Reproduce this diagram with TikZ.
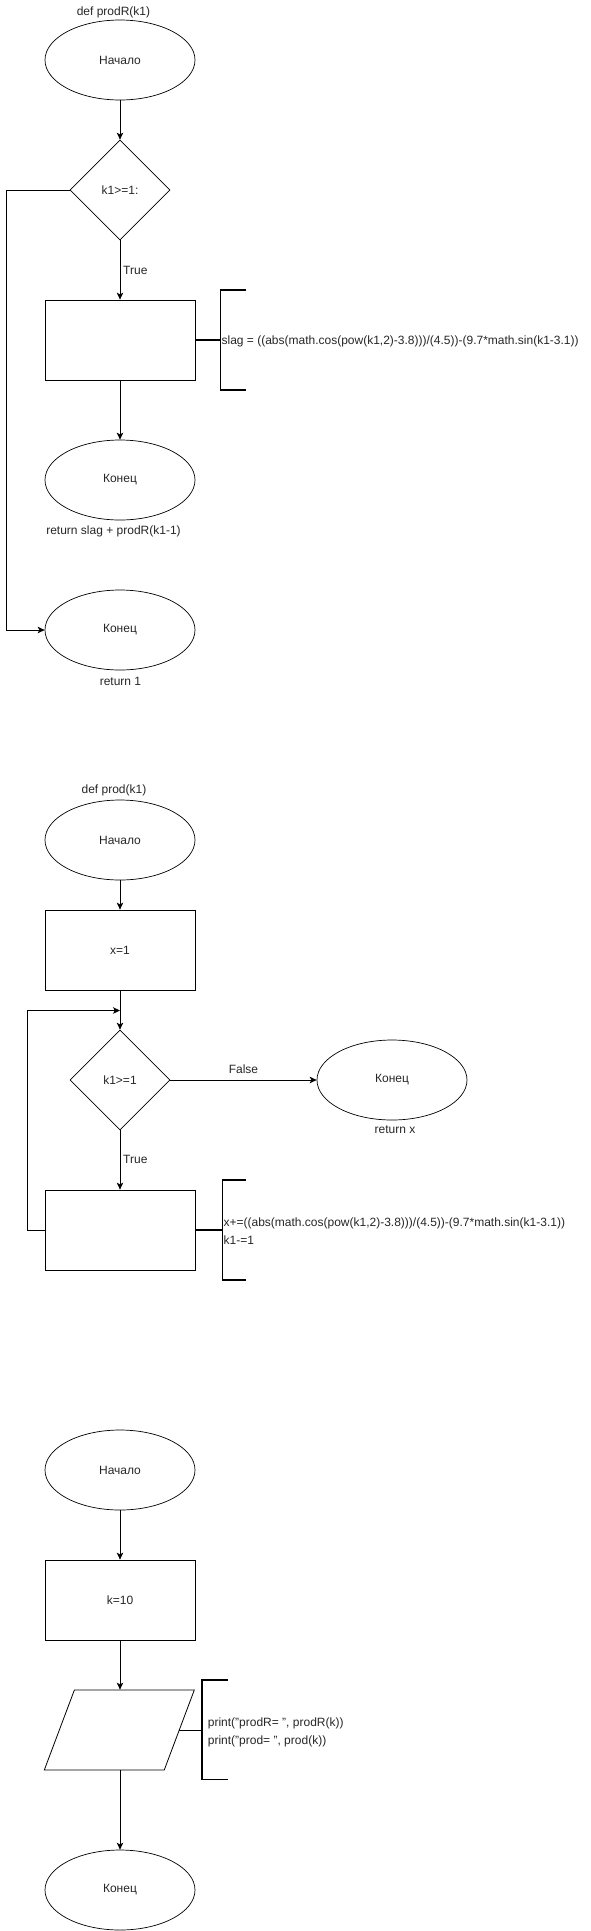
\documentclass[tikz,border=0pt]{standalone}
\usepackage{fontspec}
\setmainfont{Liberation Sans}
\usetikzlibrary{shapes.geometric,positioning,calc,arrows.meta}

\begin{document}
\begin{tikzpicture}[x=1pt,y=-1pt,
	every node/.style={font=\fontsize{12}{18.4}\selectfont,text=black!85},
	term/.style={draw=black,ellipse,minimum width=150pt,minimum height=80pt,line width=0.7pt},
	proc/.style={draw=black,rectangle,minimum width=150pt,minimum height=80pt,line width=0.8pt},
	cond/.style={draw=black,diamond,minimum width=100pt,minimum height=100pt,inner sep=0pt,line width=0.7pt},
	io/.style={draw=black,trapezium,trapezium left angle=69.4,trapezium right angle=110.6,trapezium stretches body,inner xsep=0pt,inner ysep=40pt,minimum width=150pt,line width=0.8pt},
	arr/.style={-{Stealth[length=7pt,width=6.5pt,inset=1.8pt]},line width=0.9pt},
	brace/.style={line width=1.8pt}]
	\useasboundingbox (0,0) rectangle (591,1931);
	% prodR
	\node (title1) at (113.5,12) {def prodR(k1)};
	\node[term] (start1) at (120,60) {Начало};
	\node[cond] (cond1) at (120,190) {k1>=1:};
	\node[proc] (body1) at (120,340) {};
	\node[term] (end1a) at (120,480) {Конец};
	\node (ret1a) at (113.5,531) {return slag + prodR(k1-1)};
	\node[term] (end1b) at (120,630) {Конец};
	\node (ret1b) at (120.5,681) {return 1};
	\node[anchor=west,inner sep=1pt] (true1) at (122,270) {True};
	\draw[arr] (start1) -- (cond1);
	\draw[arr] (cond1) -- (body1);
	\draw[arr] (body1) -- (end1a);
	\draw[arr] (cond1.west) -- ++(-63,0) |- (end1b.west);
	\draw[brace] (body1.east) -- ++(25,0) coordinate (b1);
	\draw[brace] ($(b1)+(26,-50)$) -- ($(b1)+(0,-50)$) -- ($(b1)+(0,50)$) -- ($(b1)+(26,50)$);
	\node[anchor=west,inner sep=1pt] (note1) at ($(b1)+(0,1)$) {slag = ((abs(math.cos(pow(k1,2)-3.8)))/(4.5))-(9.7*math.sin(k1-3.1))};
	% prod
	\node (title2) at (114,790) {def prod(k1)};
	\node[term] (start2) at (120,840) {Начало};
	\node[proc] (init2) at (120,950) {x=1};
	\node[cond] (cond2) at (120,1080) {k1>=1};
	\node[term] (end2) at (392,1080) {Конец};
	\node (ret2) at (395,1130) {return x};
	\node (false2) at (243.5,1069) {False};
	\node[anchor=west,inner sep=1pt] (true2) at (122,1159) {True};
	\node[proc] (body2) at (120,1230) {};
	\coordinate (loop2) at (120,1010.5);
	\draw[arr] (start2) -- (init2);
	\draw[arr] (init2) -- (cond2);
	\draw[arr] (cond2) -- (end2);
	\draw[arr] (cond2) -- (body2);
	\draw[arr] (body2.west) -- ++(-16.7,0) |- (loop2);
	\draw[brace] (body2.east) -- ++(27,0) coordinate (b2);
	\draw[brace] ($(b2)+(23.5,-50)$) -- ($(b2)+(0,-50)$) -- ($(b2)+(0,50)$) -- ($(b2)+(23.5,50)$);
	\node[anchor=west,align=left,inner sep=1pt] (note2) at ($(b2)+(0,1)$) {x+=((abs(math.cos(pow(k1,2)-3.8)))/(4.5))-(9.7*math.sin(k1-3.1))\\k1-=1};
	% main
	\node[term] (start3) at (120,1470) {Начало};
	\node[proc] (init3) at (120,1600) {k=10};
	\node[io] (out3) at (119.3,1730) {};
	\node[term] (end3) at (120,1890) {Конец};
	\draw[arr] (start3) -- (init3);
	\draw[arr] (init3) -- (init3 |- out3.north);
	\draw[arr] (init3 |- out3.south) -- (end3);
	\draw[brace] (179,1730.5) -- (202.3,1730.5) coordinate (b3);
	\draw[brace] ($(b3)+(25.4,-50.5)$) -- ($(b3)+(0,-50.5)$) -- ($(b3)+(0,49)$) -- ($(b3)+(25.4,49)$);
	\node[anchor=west,align=left,inner sep=1pt] (note3) at ($(b3)+(4.4,2)$) {print("prodR= ", prodR(k))\\print("prod= ", prod(k))};
\end{tikzpicture}
\end{document}
